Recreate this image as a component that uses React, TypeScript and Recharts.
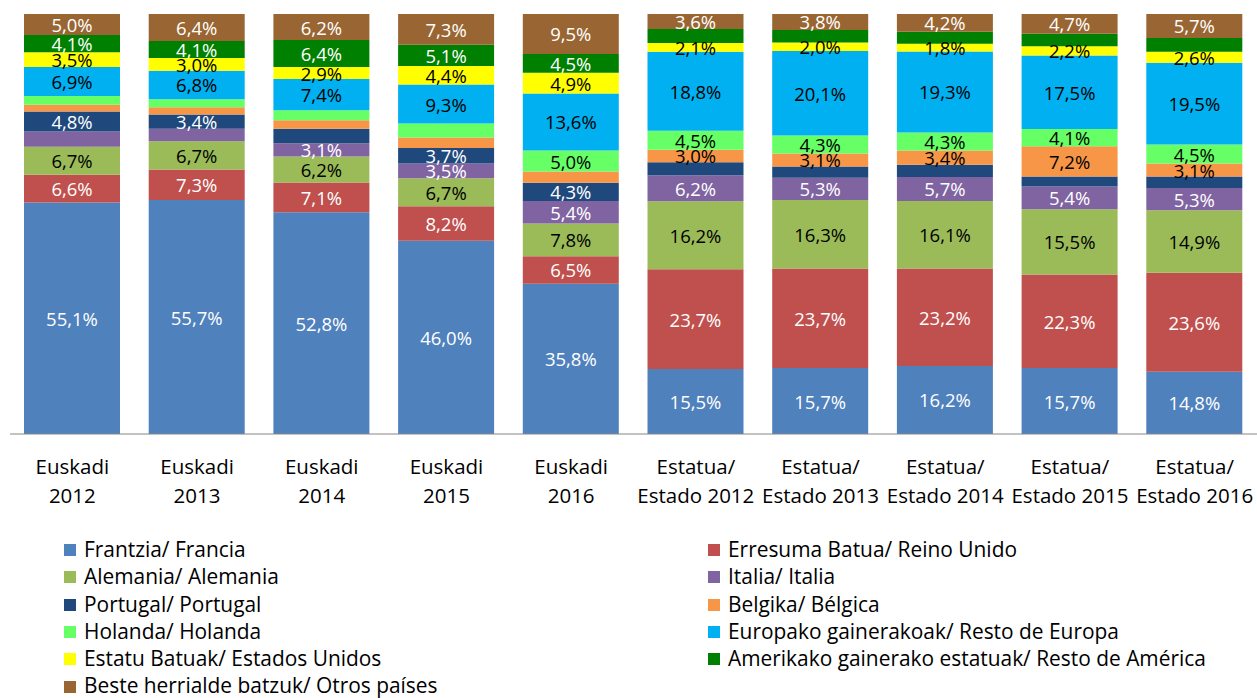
import { BarChart, Bar, XAxis, YAxis, Legend, LabelList } from 'recharts';

const FONT = '"Open Sans", Lato, sans-serif';

// categories (two-line tick labels)
const categories = [
  'Euskadi 2012', 'Euskadi 2013', 'Euskadi 2014', 'Euskadi 2015', 'Euskadi 2016',
  'Estado 2012', 'Estado 2013', 'Estado 2014', 'Estado 2015', 'Estado 2016',
];
const tickTop = ['Euskadi', 'Euskadi', 'Euskadi', 'Euskadi', 'Euskadi', 'Estatua/', 'Estatua/', 'Estatua/', 'Estatua/', 'Estatua/'];
const tickBottom = ['2012', '2013', '2014', '2015', '2016', 'Estado 2012', 'Estado 2013', 'Estado 2014', 'Estado 2015', 'Estado 2016'];

// series, bottom to top
const seriesNames = [
  'Frantzia/ Francia',
  'Erresuma Batua/ Reino Unido',
  'Alemania/ Alemania',
  'Italia/ Italia',
  'Portugal/ Portugal',
  'Belgika/ Bélgica',
  'Holanda/ Holanda',
  'Europako gainerakoak/ Resto de Europa',
  'Estatu Batuak/ Estados Unidos',
  'Amerikako gainerako estatuak/ Resto de América',
  'Beste herrialde batzuk/ Otros países',
];
const seriesColors = ['#4F81BD', '#C0504D', '#9BBB59', '#8064A2', '#1F497D', '#F79646', '#66FF66', '#00B0F0', '#FFFF00', '#008000', '#996633'];
const labelColors = ['#fff', '#fff', '#000', '#fff', '#fff', '#000', '#000', '#000', '#000', '#fff', '#fff'];

const francia = [55.1, 55.7, 52.8, 46.0, 35.8, 15.5, 15.7, 16.2, 15.7, 14.8];
const reinoUnido = [6.6, 7.3, 7.1, 8.2, 6.5, 23.7, 23.7, 23.2, 22.3, 23.6];
const alemania = [6.7, 6.7, 6.2, 6.7, 7.8, 16.2, 16.3, 16.1, 15.5, 14.9];
const italia = [3.6, 3.0, 3.1, 3.5, 5.4, 6.2, 5.3, 5.7, 5.4, 5.3];
const portugal = [4.8, 3.4, 3.5, 3.7, 4.3, 3.1, 2.7, 2.9, 2.4, 2.7];
const belgica = [1.6, 1.7, 2.0, 2.5, 2.7, 3.0, 3.1, 3.4, 7.2, 3.1];
const holanda = [2.1, 1.9, 2.4, 3.3, 5.0, 4.5, 4.3, 4.3, 4.1, 4.5];
const restoEuropa = [6.9, 6.8, 7.4, 9.3, 13.6, 18.8, 20.1, 19.3, 17.5, 19.5];
const eeuu = [3.5, 3.0, 2.9, 4.4, 4.9, 2.1, 2.0, 1.8, 2.2, 2.6];
const restoAmerica = [4.1, 4.1, 6.4, 5.1, 4.5, 3.3, 3.0, 2.9, 3.0, 3.3];
const otros = [5.0, 6.4, 6.2, 7.3, 9.5, 3.6, 3.8, 4.2, 4.7, 5.7];

const seriesValues = [francia, reinoUnido, alemania, italia, portugal, belgica, holanda, restoEuropa, eeuu, restoAmerica, otros];

// category indexes whose label is not printed, per series
const hiddenLabels: number[][] = [
  [], [], [],
  [0, 1],
  [2, 5, 6, 7, 8, 9],
  [0, 1, 2, 3, 4],
  [0, 1, 2, 3],
  [], [],
  [5, 6, 7, 8, 9],
  [],
];

const data = categories.map((name, i) => {
  const row: Record<string, number | string> = { name };
  seriesValues.forEach((vals, s) => {
    row[`s${s}`] = vals[i];
  });
  return row;
});

const fmt = (v: number) => `${v.toFixed(1).replace('.', ',')}%`;

const makeLabel = (s: number) => (props: any) => {
  const { x, y, width, height, index } = props;
  if (hiddenLabels[s].includes(index)) return null;
  return (
    <text
      x={x + width / 2}
      y={y + height / 2}
      textAnchor="middle"
      dominantBaseline="central"
      fill={labelColors[s]}
      fontSize={18.5}
      fontFamily={FONT}
    >
      {fmt(seriesValues[s][index])}
    </text>
  );
};

const CategoryTick = (props: any) => {
  const { x, y, index } = props;
  return (
    <text x={x} y={y} textAnchor="middle" fill="#000" fontSize={20.5} fontFamily={FONT}>
      <tspan x={x} dy={39.5}>{tickTop[index]}</tspan>
      <tspan x={x} dy={29.5}>{tickBottom[index]}</tspan>
    </text>
  );
};

const renderLegend = () => (
  <div
    style={{
      height: 178,
      boxSizing: 'border-box',
      paddingTop: 16,
      paddingLeft: 64,
      display: 'grid',
      gridTemplateColumns: '644px 540px',
      gridAutoRows: '27.3px',
      fontFamily: FONT,
      fontSize: 20.9,
      lineHeight: '27.3px',
      color: '#000',
    }}
  >
    {seriesNames.map((name, i) => (
      <div key={name} style={{ display: 'flex', alignItems: 'center', whiteSpace: 'nowrap' }}>
        <span style={{ width: 12, height: 12, background: seriesColors[i], marginRight: 8, marginTop: 1 }} />
        <span>{name}</span>
      </div>
    ))}
  </div>
);

const boundaryTicks = categories.map((_, i) => i).concat([categories.length]);

export default function App() {
  return (
    <div style={{ position: 'absolute', left: 0, top: 0 }}>
      <BarChart
        width={1257}
        height={698}
        data={data}
        margin={{ top: 14, right: 0, bottom: 0, left: 10 }}
        barSize={96}
      >
        <XAxis
          xAxisId="b"
          type="number"
          domain={[0, categories.length]}
          ticks={boundaryTicks}
          tick={false}
          axisLine={false}
          tickLine={{ stroke: '#868686' }}
          tickSize={8}
          height={0}
          allowDataOverflow
        />
        <XAxis
          xAxisId="c"
          dataKey="name"
          axisLine={{ stroke: '#868686' }}
          tickLine={false}
          tickSize={0}
          tickMargin={0}
          height={86}
          interval={0}
          tick={<CategoryTick />}
        />
        <YAxis hide domain={[0, 100]} allowDataOverflow />
        <Legend verticalAlign="bottom" content={renderLegend} wrapperStyle={{ left: 0, width: 1257 }} />
        {seriesNames.map((name, s) => (
          <Bar
            key={name}
            xAxisId="c"
            dataKey={`s${s}`}
            name={name}
            stackId="a"
            fill={seriesColors[s]}
            isAnimationActive={false}
          >
            <LabelList content={makeLabel(s)} />
          </Bar>
        ))}
      </BarChart>
    </div>
  );
}
